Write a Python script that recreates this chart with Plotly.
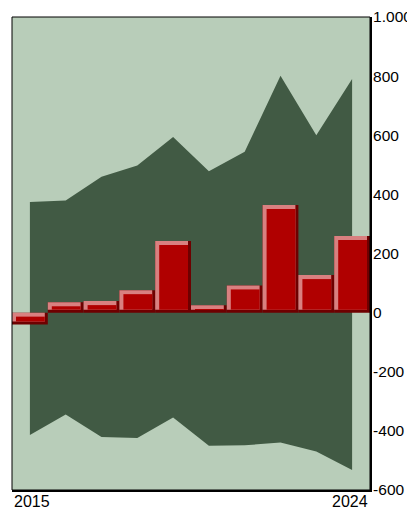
import plotly.graph_objects as go

years = ["2015", "2016", "2017", "2018", "2019", "2020", "2021", "2022", "2023", "2024"]
band_upper = [374, 379, 460, 498, 594, 478, 544, 801, 600, 790]
band_lower = [-414, -345, -421, -424, -355, -450, -449, -439, -470, -532]
bar_values = [-40, 35, 39, 76, 242, 25, 92, 364, 127, 259]
y_tick_vals = [-600, -400, -200, 0, 200, 400, 600, 800, 1000]
y_tick_text = ["-600", "-400", "-200", "0", "200", "400", "600", "800", "1.000"]

Y_MIN, Y_MAX = -600, 1000
PAGE_OFFSET = 8  # default body margin of the page
W, H = 415 - PAGE_OFFSET, 510 - PAGE_OFFSET
ML, MR, MT, MB = 12 - PAGE_OFFSET, 45, 17 - PAGE_OFFSET, 20
plot_w = W - ML - MR
plot_h = H - MT - MB
unit_per_px_y = (Y_MAX - Y_MIN) / plot_h
cat_per_px_x = len(years) / plot_w

# bevel sizes (pixels -> data units)
LIGHT_T = 4 * unit_per_px_y
DARK_B = 3 * unit_per_px_y
LIGHT_L = 4 * cat_per_px_x
DARK_R = 3 * cat_per_px_x

xs = list(range(len(years)))
lo = [min(0, v) for v in bar_values]
hi = [max(0, v) for v in bar_values]

fig = go.Figure()

# band (area between lower and upper)
fig.add_trace(go.Scatter(x=xs, y=band_lower, mode="lines", line=dict(width=0),
                         hoverinfo="skip", showlegend=False))
fig.add_trace(go.Scatter(x=xs, y=band_upper, mode="lines", line=dict(width=0),
                         fill="tonexty", fillcolor="#415a44", showlegend=False))

# bevelled bars on overlaying axes
def bar_layer(base, height, offset, width, color):
    fig.add_trace(go.Bar(x=xs, y=[max(0, h) for h in height], base=base,
                         offset=offset, width=width,
                         marker=dict(color=color, line=dict(width=0)),
                         xaxis="x2", yaxis="y2", showlegend=False))

bar_layer(lo, [h - l for h, l in zip(hi, lo)], -0.5, 1.0, "#6e0000")
bar_layer([l + DARK_B for l in lo], [h - l - DARK_B for h, l in zip(hi, lo)],
          -0.5, 1.0 - DARK_R, "#d98080")
bar_layer([l + DARK_B for l in lo], [h - l - DARK_B - LIGHT_T for h, l in zip(hi, lo)],
          -0.5 + LIGHT_L, 1.0 - DARK_R - LIGHT_L, "#b00000")

font = dict(family="Arial, Liberation Sans, sans-serif", size=16, color="#000000")
tick_font = dict(family="Arial, Liberation Sans, sans-serif", size=15.5, color="#000000")

fig.update_layout(
    width=W, height=H,
    margin=dict(l=ML, r=MR, t=MT, b=MB, pad=0, autoexpand=False),
    paper_bgcolor="#ffffff",
    plot_bgcolor="#b8cdb9",
    barmode="overlay",
    font=font,
    xaxis=dict(range=[-0.5, len(years) - 0.5], showgrid=False, zeroline=False,
               showticklabels=False, ticks="", showline=True, linecolor="#000000",
               linewidth=2, automargin=False),
    yaxis=dict(range=[Y_MIN, Y_MAX], side="right", showgrid=False, zeroline=False,
               tickvals=y_tick_vals, ticktext=y_tick_text, ticks="",
               showline=True, linecolor="#000000", linewidth=2, tickfont=tick_font,
               ticklabelstandoff=-2, automargin=False),
    xaxis2=dict(range=[-0.5, len(years) - 0.5], overlaying="x", visible=False),
    yaxis2=dict(range=[Y_MIN, Y_MAX], overlaying="y", visible=False),
    shapes=[dict(type="rect", xref="paper", yref="paper", x0=0, x1=1, y0=0, y1=1,
                 line=dict(color="#000000", width=1), layer="above")],
    annotations=[
        dict(text=years[0], xref="paper", yref="paper", x=0, y=0, xanchor="left",
             yanchor="top", showarrow=False, font=font, yshift=-1),
        dict(text=years[-1], xref="paper", yref="paper", x=1, y=0, xanchor="right",
             yanchor="top", showarrow=False, font=font, yshift=-1),
    ],
)

fig.write_html("out.html")
